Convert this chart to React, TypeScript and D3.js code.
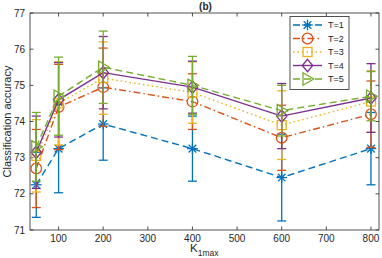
import React from "react";
import * as d3 from "d3";

// K1max values on the x axis
const kValues = [50, 100, 200, 400, 600, 800];
const seriesNames = ["T=1", "T=2", "T=3", "T=4", "T=5"];
// mean classification accuracy per series
const t1 = [72.25, 73.25, 73.93, 73.25, 72.45, 73.25];
const t2 = [72.7, 74.4, 74.95, 74.55, 73.55, 74.2];
const t3 = [73.05, 74.5, 75.2, 74.8, 73.9, 74.55];
const t4 = [73.15, 74.6, 75.35, 74.95, 74.15, 74.65];
const t5 = [73.3, 74.7, 75.5, 75.0, 74.3, 74.7];
// error (half length of the bar)
const e1 = [0.9, 1.22, 1.0, 0.9, 1.2, 1.0];
const e2 = [1.08, 1.18, 1.08, 0.77, 0.9, 0.92];
const e3 = [1.0, 1.15, 1.0, 0.85, 0.95, 0.85];
const e4 = [1.0, 1.03, 1.0, 0.72, 0.9, 0.95];
const e5 = [0.95, 1.08, 1.0, 0.8, 0.7, 0.68];
const xTicks = [100, 200, 300, 400, 500, 600, 700, 800];
const yTicks = [71, 72, 73, 74, 75, 76, 77];

const colors = ["#0072BD", "#D95319", "#EDB120", "#7E2F8E", "#77AC30"];
const dashes = ["7,4", "7,3,1.5,3", "1.5,3", "none", "7,4"];
const markers = ["star", "circle", "square", "diamond", "triangle"];
const means = [t1, t2, t3, t4, t5];
const errs = [e1, e2, e3, e4, e5];

const margin = { left: 30, right: 3, top: 13, bottom: 28 };
const W = 382, H = 258;
const font = "'Liberation Sans', Arial, sans-serif";

function Marker({ type, x, y, color }: { type: string; x: number; y: number; color: string }) {
  const r = 5.3;
  const p = { fill: "none", stroke: color, strokeWidth: 1.3 };
  if (type === "star") {
    const d = r * 0.72;
    return (
      <g {...p}>
        <line x1={x - r} y1={y} x2={x + r} y2={y} />
        <line x1={x} y1={y - r} x2={x} y2={y + r} />
        <line x1={x - d} y1={y - d} x2={x + d} y2={y + d} />
        <line x1={x - d} y1={y + d} x2={x + d} y2={y - d} />
      </g>
    );
  }
  if (type === "circle") return <circle cx={x} cy={y} r={r} {...p} />;
  if (type === "square") return <rect x={x - 4.5} y={y - 4.5} width={9} height={9} {...p} />;
  if (type === "diamond")
    return <path d={`M${x},${y - 6.2}L${x + 5.2},${y}L${x},${y + 6.2}L${x - 5.2},${y}Z`} {...p} />;
  return <path d={`M${x - 4.5},${y - 6.2}L${x + 6.2},${y}L${x - 4.5},${y + 6.2}Z`} {...p} />;
}

export default function App() {
  const x = d3.scaleLinear().domain([36, 818]).range([margin.left, W - margin.right]);
  const y = d3.scaleLinear().domain([71, 77]).range([H - margin.bottom, margin.top]);
  const x0 = margin.left, x1 = W - margin.right, y0 = y(71), y1 = y(77);
  const line = d3.line<number>().x((_, i) => x(kValues[i])).y((d) => y(d));
  const tk = 3.5;
  const cap = 4.5;

  return (
    <svg width={W} height={H} style={{ position: "absolute", left: 0, top: 0 }} fontFamily={font}>
      <rect width={W} height={H} fill="white" />
      {/* axes box and ticks */}
      <rect x={x0} y={y1} width={x1 - x0} height={y0 - y1} fill="none" stroke="#262626" strokeWidth={0.8} />
      {xTicks.map((t) => (
        <g key={"x" + t}>
          <line x1={x(t)} x2={x(t)} y1={y0} y2={y0 - tk} stroke="#262626" strokeWidth={0.8} />
          <line x1={x(t)} x2={x(t)} y1={y1} y2={y1 + tk} stroke="#262626" strokeWidth={0.8} />
          <text x={x(t)} y={y0 + 12} fontSize={10} textAnchor="middle" fill="#262626">{t}</text>
        </g>
      ))}
      {yTicks.map((t) => (
        <g key={"y" + t}>
          <line x1={x0} x2={x0 + tk} y1={y(t)} y2={y(t)} stroke="#262626" strokeWidth={0.8} />
          <line x1={x1} x2={x1 - tk} y1={y(t)} y2={y(t)} stroke="#262626" strokeWidth={0.8} />
          <text x={x0 - 5} y={y(t) + 3.5} fontSize={10} textAnchor="end" fill="#262626">{t}</text>
        </g>
      ))}
      {/* series */}
      {means.map((m, s) => (
        <g key={"s" + s}>
          {m.map((v, i) => (
            <g key={i} stroke={colors[s]} strokeWidth={1.3}>
              <line x1={x(kValues[i])} x2={x(kValues[i])} y1={y(v - errs[s][i])} y2={y(v + errs[s][i])} />
              <line x1={x(kValues[i]) - cap} x2={x(kValues[i]) + cap} y1={y(v - errs[s][i])} y2={y(v - errs[s][i])} />
              <line x1={x(kValues[i]) - cap} x2={x(kValues[i]) + cap} y1={y(v + errs[s][i])} y2={y(v + errs[s][i])} />
            </g>
          ))}
          <path d={line(m) || ""} fill="none" stroke={colors[s]} strokeWidth={1.4}
            strokeDasharray={dashes[s]} />
          {m.map((v, i) => (
            <Marker key={"m" + i} type={markers[s]} x={x(kValues[i])} y={y(v)} color={colors[s]} />
          ))}
        </g>
      ))}
      {/* legend */}
      <rect x={290} y={16.5} width={59} height={73} fill="white" stroke="#262626" strokeWidth={0.8} />
      {seriesNames.map((n, s) => {
        const ly = 25 + s * 13.5;
        return (
          <g key={n}>
            <line x1={293} x2={322} y1={ly} y2={ly} stroke={colors[s]} strokeWidth={1.4} strokeDasharray={dashes[s]} />
            <Marker type={markers[s]} x={307.5} y={ly} color={colors[s]} />
            <text x={328} y={ly + 3} fontSize={9} fill="#262626">{n}</text>
          </g>
        );
      })}
      {/* labels */}
      <text x={(x0 + x1) / 2 + 1} y={10} fontSize={10} fontWeight="bold" textAnchor="middle" fill="#262626">(b)</text>
      <text transform={`translate(11,${(y0 + y1) / 2}) rotate(-90)`} fontSize={11} textAnchor="middle" fill="#262626">
        Classification accuracy
      </text>
      <text x={190} y={251.5} fontSize={11.5} fill="#262626">
        K<tspan fontSize={8.5} dy={4.5}>1max</tspan>
      </text>
    </svg>
  );
}
